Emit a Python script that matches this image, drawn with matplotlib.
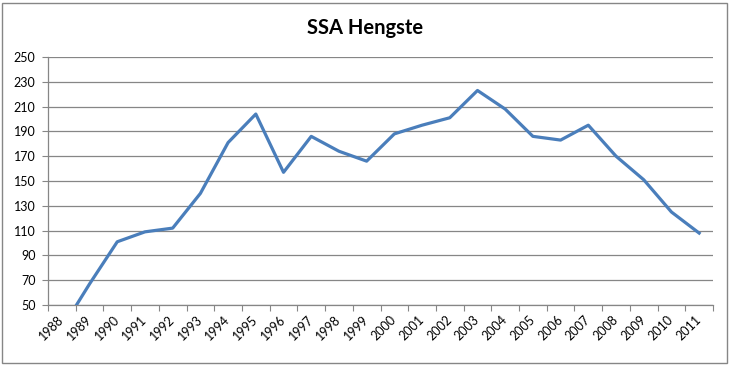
import matplotlib.pyplot as plt
import numpy as np
from matplotlib.patches import Rectangle

years = [str(y) for y in range(1988, 2012)]
# 1988 lies below the axis minimum, the line gets clipped at 50 like in the original
stallions = [31, 67, 101, 109, 112, 140, 181, 204, 157, 186, 174, 166,
			 188, 195, 201, 223, 208, 186, 183, 195, 170, 151, 125, 108]

y_ticks = list(range(50, 251, 20))

line_colour = '#4A7EBB'
grid_colour = '#868686'

plt.rcParams['font.family'] = ['Lato', 'DejaVu Sans']

figure = plt.figure(figsize = (7.3, 3.65), dpi = 100)
axe: plt.Axes = figure.add_axes([48/730, 1 - 305/365, 665/730, 248/365])

x = np.arange(len(years))
axe.plot(x, stallions, color = line_colour, linewidth = 2.3, solid_joinstyle = 'round', clip_on = True, zorder = 3)

axe.set_xlim(-0.5, len(years) - 0.5)
axe.set_ylim(50, 250)

# category labels in the middle, tick marks between categories
axe.set_xticks(x)
axe.set_xticklabels(years, rotation = 45, ha = 'right', va = 'center', rotation_mode = 'anchor', fontsize = 9)
axe.set_xticks(np.arange(-0.5, len(years)), minor = True)
axe.tick_params(axis = 'x', which = 'major', length = 0, pad = 9)
axe.tick_params(axis = 'x', which = 'minor', length = 4, width = 0.8, color = grid_colour)

axe.set_yticks(y_ticks)
axe.set_yticklabels([str(v) for v in y_ticks], fontsize = 9)
axe.tick_params(axis = 'y', length = 4, width = 0.8, color = grid_colour, pad = 5)

axe.grid(axis = 'y', color = grid_colour, linewidth = 0.9)
axe.set_axisbelow(True)
for side in ['top', 'right']:
	axe.spines[side].set_visible(False)
for side in ['left', 'bottom']:
	axe.spines[side].set_color(grid_colour)
	axe.spines[side].set_linewidth(0.9)

figure.text(0.5, 1 - 28/365, 'SSA Hengste', ha = 'center', va = 'center', fontsize = 14.5, fontweight = 'bold')

# chart area border
figure.add_artist(Rectangle((2/730, 2/365), 725/730, 360/365, transform = figure.transFigure,
							fill = False, edgecolor = grid_colour, linewidth = 1))

figure.savefig('out.png', dpi = 100)
